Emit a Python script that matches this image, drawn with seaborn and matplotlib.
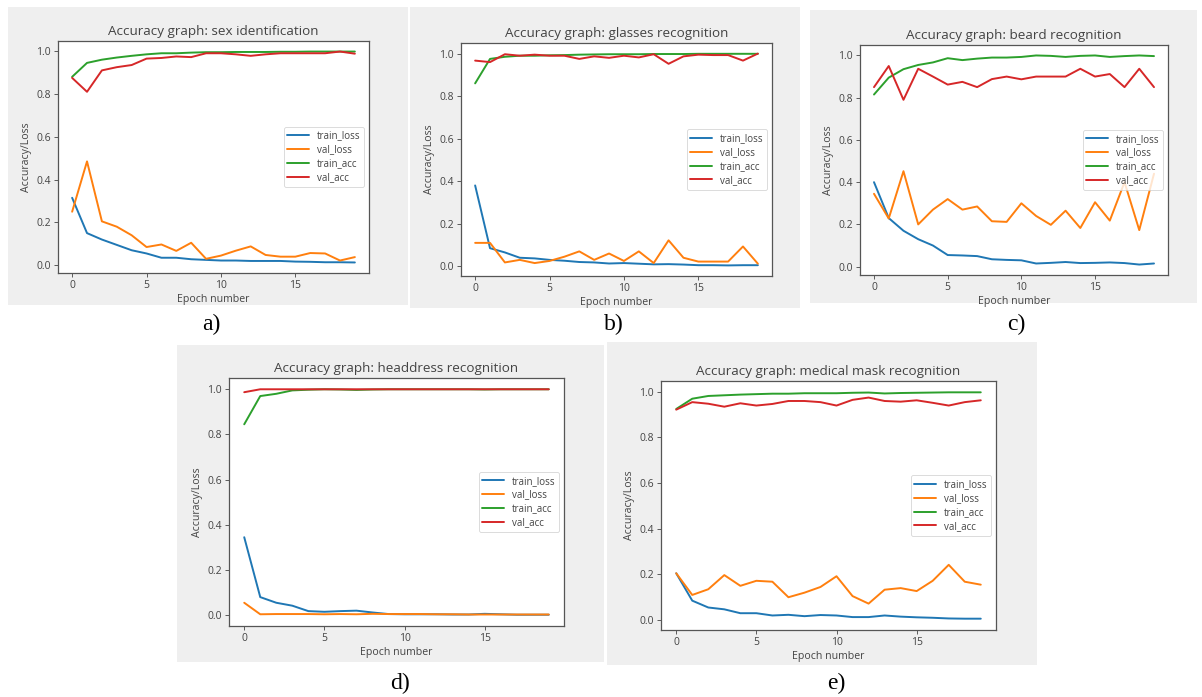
import pandas as pd
import matplotlib
matplotlib.use("Agg")
import matplotlib.pyplot as plt
import seaborn as sns
from matplotlib.patches import Rectangle

# Epochs and series names
epochs = list(range(20))
series_names = ["train_loss", "val_loss", "train_acc", "val_acc"]

# a) sex identification
sex_train_loss = [0.315, 0.15, 0.12, 0.095, 0.07, 0.055, 0.035, 0.035, 0.028, 0.025,
                  0.022, 0.022, 0.02, 0.02, 0.02, 0.017, 0.016, 0.014, 0.014, 0.013]
sex_val_loss = [0.25, 0.485, 0.205, 0.18, 0.14, 0.085, 0.097, 0.067, 0.105, 0.03,
                0.045, 0.068, 0.088, 0.048, 0.04, 0.04, 0.057, 0.055, 0.022, 0.038]
sex_train_acc = [0.88, 0.945, 0.96, 0.97, 0.978, 0.985, 0.99, 0.99, 0.993, 0.995,
                 0.995, 0.996, 0.996, 0.996, 0.997, 0.997, 0.998, 0.998, 0.998, 0.998]
sex_val_acc = [0.875, 0.81, 0.91, 0.925, 0.935, 0.965, 0.968, 0.975, 0.972, 0.99,
               0.99, 0.985, 0.978, 0.985, 0.99, 0.99, 0.99, 0.99, 0.998, 0.988]

# b) glasses recognition
gl_train_loss = [0.38, 0.085, 0.065, 0.04, 0.037, 0.03, 0.026, 0.02, 0.018, 0.013,
                 0.015, 0.012, 0.009, 0.01, 0.008, 0.005, 0.005, 0.004, 0.005, 0.005]
gl_val_loss = [0.11, 0.11, 0.018, 0.03, 0.015, 0.025, 0.045, 0.07, 0.03, 0.06,
               0.025, 0.07, 0.015, 0.122, 0.04, 0.022, 0.022, 0.022, 0.093, 0.012]
gl_train_acc = [0.86, 0.975, 0.985, 0.99, 0.99, 0.992, 0.993, 0.995, 0.996, 0.997,
                0.997, 0.997, 0.998, 0.998, 0.998, 0.999, 0.999, 0.999, 0.999, 0.999]
gl_val_acc = [0.967, 0.96, 0.997, 0.99, 0.995, 0.99, 0.99, 0.975, 0.987, 0.98,
              0.99, 0.982, 0.997, 0.952, 0.987, 0.995, 0.993, 0.993, 0.967, 1.0]

# c) beard recognition
bd_train_loss = [0.4, 0.23, 0.17, 0.13, 0.1, 0.055, 0.053, 0.05, 0.035, 0.032,
                 0.03, 0.015, 0.018, 0.022, 0.017, 0.018, 0.02, 0.017, 0.01, 0.015]
bd_val_loss = [0.345, 0.228, 0.452, 0.2, 0.27, 0.32, 0.27, 0.285, 0.215, 0.212,
               0.3, 0.24, 0.198, 0.265, 0.183, 0.305, 0.218, 0.4, 0.173, 0.44]
bd_train_acc = [0.815, 0.895, 0.935, 0.955, 0.967, 0.987, 0.978, 0.985, 0.99, 0.99,
                0.993, 1.0, 0.998, 0.993, 0.998, 1.0, 0.993, 0.997, 1.0, 0.997]
bd_val_acc = [0.85, 0.95, 0.79, 0.937, 0.9, 0.862, 0.875, 0.85, 0.888, 0.9,
              0.887, 0.9, 0.9, 0.9, 0.937, 0.9, 0.912, 0.85, 0.937, 0.85]

# d) headdress recognition
hd_train_loss = [0.345, 0.08, 0.055, 0.042, 0.018, 0.015, 0.018, 0.02, 0.012, 0.005,
                 0.004, 0.004, 0.004, 0.003, 0.003, 0.006, 0.004, 0.002, 0.002, 0.002]
hd_val_loss = [0.055, 0.004, 0.005, 0.005, 0.005, 0.004, 0.005, 0.004, 0.006, 0.005,
               0.005, 0.005, 0.004, 0.004, 0.003, 0.003, 0.003, 0.003, 0.003, 0.003]
hd_train_acc = [0.845, 0.97, 0.98, 0.995, 0.998, 1.0, 0.999, 0.997, 0.999, 1.0,
                1.0, 1.0, 1.0, 1.0, 1.0, 0.999, 1.0, 1.0, 1.0, 1.0]
hd_val_acc = [0.987, 1.0, 1.0, 1.0, 1.0, 1.0, 1.0, 1.0, 1.0, 1.0,
              1.0, 1.0, 1.0, 1.0, 1.0, 1.0, 1.0, 1.0, 1.0, 1.0]

# e) medical mask recognition
mm_train_loss = [0.205, 0.085, 0.055, 0.047, 0.03, 0.03, 0.02, 0.023, 0.017, 0.022,
                 0.02, 0.013, 0.013, 0.02, 0.015, 0.012, 0.01, 0.007, 0.006, 0.006]
mm_val_loss = [0.205, 0.11, 0.135, 0.197, 0.15, 0.172, 0.168, 0.1, 0.12, 0.145,
               0.192, 0.105, 0.072, 0.133, 0.14, 0.127, 0.172, 0.242, 0.168, 0.155]
mm_train_acc = [0.925, 0.97, 0.982, 0.985, 0.988, 0.99, 0.992, 0.992, 0.994, 0.994,
                0.994, 0.996, 0.997, 0.993, 0.995, 0.996, 0.997, 0.998, 0.998, 0.998]
mm_val_acc = [0.922, 0.955, 0.948, 0.935, 0.95, 0.94, 0.947, 0.96, 0.96, 0.955,
              0.94, 0.965, 0.975, 0.96, 0.957, 0.963, 0.952, 0.94, 0.955, 0.963]

titles = ["Accuracy graph: sex identification",
          "Accuracy graph: glasses recognition",
          "Accuracy graph: beard recognition",
          "Accuracy graph: headdress recognition",
          "Accuracy graph: medical mask recognition"]
panel_labels = ["a)", "b)", "c)", "d)", "e)"]

panels = [
    [sex_train_loss, sex_val_loss, sex_train_acc, sex_val_acc],
    [gl_train_loss, gl_val_loss, gl_train_acc, gl_val_acc],
    [bd_train_loss, bd_val_loss, bd_train_acc, bd_val_acc],
    [hd_train_loss, hd_val_loss, hd_train_acc, hd_val_acc],
    [mm_train_loss, mm_val_loss, mm_train_acc, mm_val_acc],
]

W, H = 1202, 697

# layout in pixels: axes box (left, top, right, bottom), gray background box, label position
axes_px = [(58, 41, 369, 273), (461, 43, 772, 276), (860, 45, 1168, 275),
           (229, 378, 564, 626), (661, 381, 996, 630)]
gray_px = [(8, 7, 408, 305), (410, 7, 800, 308), (810, 10, 1197, 303),
           (177, 345, 604, 662), (607, 342, 1037, 665)]
label_px = [(211, 324), (614, 324), (1016, 324), (400, 683), (836, 683)]

sns.set_style("white")
plt.rcParams['font.family'] = ['Open Sans', 'DejaVu Sans']
text_grey = "#444444"
plt.rcParams['text.color'] = text_grey
plt.rcParams['axes.labelcolor'] = text_grey
plt.rcParams['xtick.color'] = text_grey
plt.rcParams['ytick.color'] = text_grey

palette = sns.color_palette("tab10")[:4]

fig = plt.figure(figsize=(W / 100, H / 100), dpi=100)
fig.patch.set_facecolor("white")

for i in range(5):
    gx0, gy0, gx1, gy1 = gray_px[i]
    fig.patches.append(Rectangle((gx0 / W, 1 - gy1 / H), (gx1 - gx0) / W, (gy1 - gy0) / H,
                                 transform=fig.transFigure, facecolor="#efefef",
                                 edgecolor="none", zorder=-10))

    l, t, r, b = axes_px[i]
    ax = fig.add_axes([l / W, 1 - b / H, (r - l) / W, (b - t) / H])

    df = pd.DataFrame({
        "epoch": epochs * 4,
        "value": sum(panels[i], []),
        "series": [n for n in series_names for _ in epochs],
    })
    sns.lineplot(data=df, x="epoch", y="value", hue="series", hue_order=series_names,
                 palette=palette, linewidth=1.4, ax=ax)

    ax.set_title(titles[i], fontsize=9.7, color=text_grey, pad=4)
    ax.set_xlabel("Epoch number", fontsize=7.6, labelpad=2)
    ax.set_ylabel("Accuracy/Loss", fontsize=7.6, labelpad=3)
    ax.set_xticks([0, 5, 10, 15])
    ax.set_yticks([0.0, 0.2, 0.4, 0.6, 0.8, 1.0])
    ax.tick_params(axis="both", labelsize=7.5, length=3, width=0.6, direction="out",
                   bottom=True, left=True, pad=2)
    for sp in ax.spines.values():
        sp.set_color("#555555")
        sp.set_linewidth(0.9)
    leg = ax.legend(loc="center right", fontsize=7, frameon=True, handlelength=2.2,
                    borderpad=0.4, labelspacing=0.3)
    leg.get_frame().set_edgecolor("#cccccc")
    leg.get_frame().set_linewidth(0.6)

    lx, ly = label_px[i]
    fig.text(lx / W, 1 - ly / H, panel_labels[i], fontsize=17, color="black",
             family=["Liberation Serif", "DejaVu Serif"], ha="center", va="center")

fig.savefig("out.png", dpi=100)
